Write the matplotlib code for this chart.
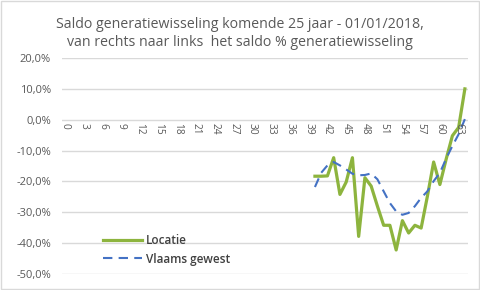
import numpy as np
import matplotlib
matplotlib.use('Agg')
import matplotlib.pyplot as plt
from matplotlib.ticker import FuncFormatter

# Leeftijdscategorieën (0..64), waarden enkel vanaf 40
leeftijden = list(range(40, 65))
locatie = [-18.3, -18.3, -18.2, -12.3, -24.2, -20.2, -12.3, -37.8, -18.8, -21.5,
           -28.0, -34.2, -34.2, -42.2, -32.7, -36.7, -34.2, -35.1, -24.8, -13.7,
           -21.0, -12.8, -5.2, -2.5, 10.0]
vlaams_gewest = [-21.8, -17.2, -14.8, -13.7, -14.8, -16.1, -17.5, -18.0, -17.9, -17.4,
                 -19.3, -23.2, -27.0, -29.7, -30.8, -30.2, -28.0, -25.3, -23.2, -19.9,
                 -17.2, -12.6, -8.5, -4.7, 0.2]
xticks = list(range(0, 64, 3))
yticks = [20, 10, 0, -10, -20, -30, -40, -50]

plt.rcParams['font.family'] = ['Open Sans', 'DejaVu Sans']

fig = plt.figure(figsize=(4.8, 2.9), dpi=100)
fig.patches.append(plt.Rectangle((0.002, 0.003), 0.995, 0.994, transform=fig.transFigure,
                                 fill=False, edgecolor='#d9d9d9', linewidth=1))
ax = fig.add_axes([0.129, 0.055, 0.846, 0.745])

ax.plot(leeftijden, locatie, color='#8db43e', linewidth=2.3, label='Locatie', zorder=3)
ax.plot(leeftijden, vlaams_gewest, color='#4472c4', linewidth=1.5, linestyle=(0, (4.5, 3)),
        label='Vlaams gewest', zorder=3)

ax.set_xlim(-0.5, 64.5)
ax.set_ylim(-50, 20)
ax.set_yticks(yticks)
ax.yaxis.set_major_formatter(FuncFormatter(lambda v, p: f'{v:.1f}%'.replace('.', ',')))
ax.grid(axis='y', color='#d9d9d9', linewidth=1)
ax.set_axisbelow(True)
for s in ax.spines.values():
    s.set_visible(False)
ax.tick_params(axis='y', length=0, labelsize=8, labelcolor='#595959', pad=8)

# x-as labels onder de 0%-lijn
ax.set_xticks([])
for t in xticks:
    ax.text(t, -1.2, str(t), rotation=-90, ha='center', va='top', fontsize=7.3,
            color='#595959')

fig.suptitle('Saldo generatiewisseling komende 25 jaar - 01/01/2018,\n'
             'van rechts naar links  het saldo % generatiewisseling',
             y=0.943, fontsize=10.2, color='#595959', linespacing=1.35)

leg = ax.legend(loc='lower left', bbox_to_anchor=(0.075, -0.01), frameon=False,
                fontsize=8.5, handlelength=3.3, handletextpad=0.3, labelspacing=0.5)
for txt in leg.get_texts():
    txt.set_color('#404040')
    txt.set_fontweight('semibold')

fig.savefig('out.png', dpi=100)
